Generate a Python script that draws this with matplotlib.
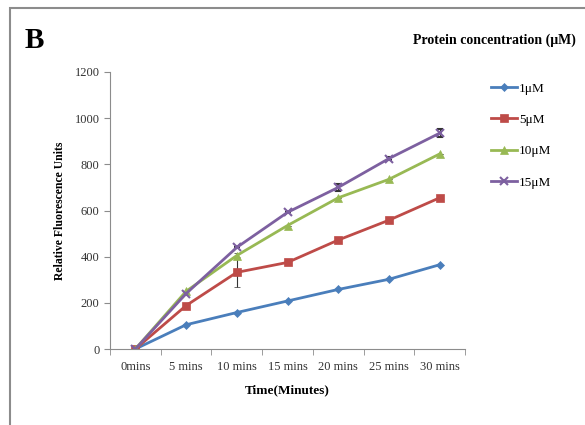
import numpy as np
import matplotlib.pyplot as plt
from matplotlib.patches import Rectangle
from matplotlib.lines import Line2D

plt.rcParams['font.family'] = ['Liberation Serif', 'DejaVu Serif']

times = ['0mins', '5 mins', '10 mins', '15 mins', '20 mins', '25 mins', '30 mins']
conc_1 = [0, 105, 158, 208, 258, 302, 365]
conc_5 = [0, 188, 332, 375, 472, 558, 655]
conc_10 = [0, 250, 405, 535, 655, 735, 845]
conc_15 = [0, 240, 440, 592, 700, 825, 935]
err_1 = [0, 0, 0, 0, 0, 0, 0]
err_5 = [0, 0, 65, 0, 0, 0, 8]
err_10 = [0, 0, 12, 0, 0, 0, 0]
err_15 = [0, 0, 0, 0, 15, 8, 18]

series = [
    ('1μM', conc_1, err_1, '#4a7ebb', 'D', 4),
    ('5μM', conc_5, err_5, '#be4b48', 's', 6),
    ('10μM', conc_10, err_10, '#98b954', '^', 6),
    ('15μM', conc_15, err_15, '#7d60a0', 'x', 6),
]

fig = plt.figure(figsize=(5.85, 4.25), dpi=100)
# outer frame of the panel
fig.patches.append(Rectangle((10 / 585, -0.05), 1.0, 1.05 - 8 / 425, transform=fig.transFigure,
                             fill=False, edgecolor='#8c8c8c', linewidth=1.5))

ax = fig.add_axes([110 / 585, 76 / 425, 355 / 585, 277 / 425])
x = np.arange(len(times))
handles = []
for label, vals, err, color, marker, ms in series:
    mew = 1.5 if marker == 'x' else 0.5
    ax.errorbar(x, vals, yerr=err, color=color, marker=marker, markersize=ms,
                linewidth=2, ecolor='#333333', elinewidth=0.8, capsize=2,
                markeredgewidth=mew)
    handles.append(Line2D([], [], color=color, marker=marker, markersize=ms,
                          linewidth=2, markeredgewidth=mew, label=label))

ax.set_xlim(-0.5, len(times) - 0.5)
ax.set_ylim(0, 1200)
ax.set_yticks(range(0, 1201, 200))
ax.set_xticks(x)
ax.set_xticklabels(times, fontsize=9)
ax.set_xticks(np.arange(-0.5, len(times)), minor=True)
ax.tick_params(axis='x', which='major', length=0, pad=9, labelcolor='#333333')
ax.tick_params(axis='x', which='minor', length=4, color='#8c8c8c', direction='out')
ax.tick_params(axis='y', length=4, color='#8c8c8c', labelsize=9, labelcolor='#333333')
for s in ['top', 'right']:
    ax.spines[s].set_visible(False)
for s in ['left', 'bottom']:
    ax.spines[s].set_color('#8c8c8c')

ax.set_ylabel('Relative Fluorescence Units', fontsize=8.5, fontweight='bold', labelpad=6)
ax.set_xlabel('Time(Minutes)', fontsize=9.5, fontweight='bold', labelpad=8)

ax.legend(handles=handles, loc='upper left', bbox_to_anchor=(1.04, 1.005), frameon=False,
          fontsize=9.5, labelspacing=1.45, handlelength=2.0, handletextpad=0.1)

fig.text(25 / 585, 1 - 40 / 425, 'B', fontsize=21, fontweight='bold', va='center')
fig.text(576 / 585, 1 - 40 / 425, 'Protein concentration (μM)', fontsize=10,
         fontweight='bold', ha='right', va='center')

fig.savefig('out.png', dpi=100)
